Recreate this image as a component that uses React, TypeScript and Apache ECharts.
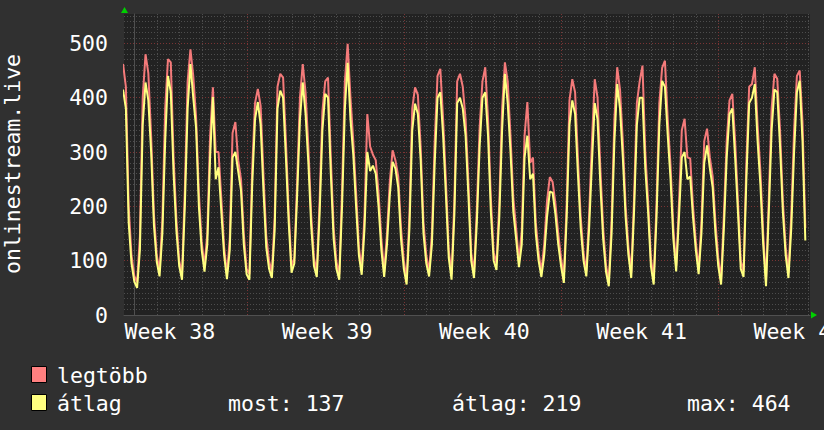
import { useEffect, useRef } from "react";
import * as echarts from "echarts";

// RRD sampling: first sample hour (relative to first daily grid line) and step
const START_HOUR = -12;
const STEP_HOURS = 3;

// "legtöbb" (maximum) series, one row per day (00,03,...,21 h)
const MAX_VALUES = [
  462, 420, 200, 110,
  72, 60, 145, 400, 480, 445, 330, 185,
  110, 82, 175, 380, 471, 465, 290, 175,
  100, 75, 230, 430, 489, 440, 365, 225,
  135, 90, 150, 330, 419, 300, 300, 215,
  125, 75, 140, 335, 355, 285, 250, 150,
  85, 75, 270, 390, 416, 385, 260, 145,
  100, 78, 180, 420, 444, 437, 320, 190,
  90, 105, 245, 400, 462, 410, 310, 185,
  105, 80, 210, 375, 430, 437, 290, 160,
  98, 75, 230, 430, 499, 400, 320, 225,
  125, 85, 185, 370, 310, 295, 285, 225,
  140, 80, 150, 245, 303, 285, 255, 160,
  100, 66, 185, 380, 419, 405, 310, 170,
  110, 80, 150, 320, 440, 453, 360, 245,
  120, 75, 210, 430, 444, 420, 360, 245,
  115, 78, 195, 345, 430, 456, 360, 215,
  115, 95, 205, 380, 465, 430, 330, 215,
  160, 100, 155, 330, 392, 280, 290, 170,
  115, 80, 130, 210, 254, 245, 205, 150,
  105, 70, 205, 395, 434, 410, 290, 180,
  115, 80, 185, 320, 434, 400, 270, 160,
  92, 62, 175, 360, 456, 415, 320, 200,
  125, 78, 215, 390, 430, 459, 300, 210,
  105, 66, 205, 390, 455, 468, 360, 275,
  160, 90, 205, 340, 361, 290, 288, 200,
  135, 85, 170, 320, 343, 290, 255, 170,
  105, 66, 185, 320, 395, 407, 320, 210,
  100, 80, 280, 420, 425, 456, 350, 265,
  150, 62, 215, 380, 444, 435, 340, 210,
  125, 78, 185, 340, 440, 450, 355, 160,
];

// "átlag" (average) series
const AVG_VALUES = [
  415, 380, 170, 95,
  62, 50, 120, 350, 428, 395, 300, 165,
  98, 71, 150, 320, 440, 410, 260, 155,
  90, 65, 200, 380, 462, 400, 345, 200,
  120, 80, 130, 290, 401, 250, 272, 190,
  110, 66, 120, 290, 300, 265, 230, 130,
  75, 65, 240, 360, 392, 350, 230, 125,
  85, 68, 156, 380, 413, 400, 290, 170,
  78, 95, 220, 360, 428, 370, 280, 165,
  90, 70, 185, 340, 407, 400, 260, 140,
  85, 65, 200, 380, 464, 360, 295, 200,
  110, 74, 160, 300, 265, 275, 260, 200,
  120, 70, 130, 220, 282, 270, 235, 140,
  85, 56, 160, 340, 389, 370, 285, 150,
  95, 71, 130, 280, 400, 410, 330, 220,
  105, 65, 185, 390, 400, 380, 330, 220,
  100, 68, 170, 310, 400, 410, 330, 190,
  100, 83, 180, 340, 444, 390, 300, 190,
  140, 88, 130, 290, 330, 250, 260, 150,
  100, 70, 110, 180, 227, 225, 185, 130,
  90, 59, 180, 350, 395, 370, 260, 160,
  100, 71, 160, 280, 390, 360, 240, 140,
  80, 53, 150, 320, 425, 380, 290, 180,
  110, 68, 190, 350, 400, 400, 270, 190,
  90, 56, 180, 350, 431, 420, 330, 250,
  140, 80, 180, 290, 300, 250, 255, 180,
  120, 75, 150, 280, 312, 270, 235, 150,
  90, 56, 160, 290, 370, 380, 290, 190,
  85, 70, 250, 390, 400, 425, 320, 240,
  130, 53, 190, 340, 415, 410, 310, 190,
  110, 68, 160, 300, 410, 431, 320, 137,
];

const DAY_LINES = [
  0, 24, 48, 72, 96, 120, 144, 168, 192, 216, 240, 264, 288, 312, 336, 360,
  384, 408, 432, 456, 480, 504, 528, 552, 576, 600, 624, 648, 672, 696, 720,
];
const WEEK_LINES = [120, 288, 456, 624];
const WEEK_LABEL_POS = [38, 206, 374, 542, 710];
const WEEK_LABELS = ["Week 38", "Week 39", "Week 40", "Week 41", "Week 42"];

const SERIES_NAMES = ["legtöbb", "átlag"];
const STAT_TEXTS = ["most: 137", "átlag: 219", "max: 464"];
const Y_TITLE = "onlinestream.live";

const X_MIN = -11;
const X_MAX = 722;
const Y_MAX = 554;

const BG = "#303030";
const PLOT_BG = "#222222";
const RED = "#f47a7a";
const YELLOW = "#ffff80";
const MINOR = "#4d4d4d";
const MAJOR = "#7a3434";
const FONT = "DejaVu Sans Mono";
const FS = 21.5;

export default function App() {
  const ref = useRef<HTMLDivElement>(null);

  useEffect(() => {
    if (!ref.current) return;
    const chart = echarts.init(ref.current, undefined, { renderer: "svg" });

    const maxData = MAX_VALUES.map((v, i) => [START_HOUR + i * STEP_HOURS, v]);
    const avgData = AVG_VALUES.map((v, i) => [START_HOUR + i * STEP_HOURS, v]);
    const gridData = DAY_LINES.map((t) => [t, WEEK_LINES.indexOf(t) >= 0 ? 1 : 0]);

    const splitColors = [MAJOR, MINOR, MINOR, MINOR, MINOR, MINOR, MINOR, MINOR, MINOR, MINOR];

    const legendFont = { fontFamily: FONT, fontSize: FS, fill: "#ffffff", textVerticalAlign: "middle" };

    chart.setOption({
      animation: false,
      backgroundColor: BG,
      grid: {
        left: 124,
        right: 14,
        top: 14,
        bottom: 115,
        show: true,
        backgroundColor: PLOT_BG,
        borderWidth: 0,
        containLabel: false,
        outerBoundsMode: "none",
      },
      xAxis: {
        type: "value",
        min: X_MIN,
        max: X_MAX,
        axisLine: { show: true, lineStyle: { color: "#505050", width: 1 } },
        axisTick: { show: false },
        splitLine: { show: false },
        axisLabel: {
          customValues: WEEK_LABEL_POS,
          formatter: (v: number) => {
            const i = WEEK_LABEL_POS.indexOf(Math.round(v));
            return i >= 0 ? WEEK_LABELS[i] : "";
          },
          color: "#ffffff",
          fontFamily: FONT,
          fontSize: FS,
          margin: 5,
        },
      },
      yAxis: {
        type: "value",
        min: 0,
        max: Y_MAX,
        interval: 10,
        axisLine: { show: true, lineStyle: { color: "#505050", width: 1 } },
        axisTick: { show: false },
        splitLine: {
          show: true,
          showMaxLine: false,
          lineStyle: { color: splitColors, type: [1, 2], width: 1 },
        },
        axisLabel: {
          formatter: (v: number) => (v % 100 === 0 ? String(v) : ""),
          color: "#ffffff",
          fontFamily: FONT,
          fontSize: FS,
          margin: 16,
        },
      },
      series: [
        {
          type: "custom",
          silent: true,
          z: 1,
          data: gridData,
          encode: { x: 0, y: 1 },
          renderItem: (params: any, api: any) => {
            const t = api.value(0);
            const major = api.value(1);
            const p = api.coord([t, 0]);
            const cs = params.coordSys;
            const x = Math.round(p[0]) + 0.5;
            return {
              type: "line",
              shape: { x1: x, y1: cs.y, x2: x, y2: cs.y + cs.height },
              style: { stroke: major ? MAJOR : MINOR, lineWidth: 1, lineDash: [1, 2] },
            };
          },
        },
        {
          name: SERIES_NAMES[0],
          type: "line",
          data: maxData,
          showSymbol: false,
          z: 2,
          lineStyle: { color: RED, width: 2 },
          itemStyle: { color: RED },
        },
        {
          name: SERIES_NAMES[1],
          type: "line",
          data: avgData,
          showSymbol: false,
          z: 3,
          lineStyle: { color: YELLOW, width: 2 },
          itemStyle: { color: YELLOW },
        },
      ],
      graphic: [
        {
          type: "text",
          x: 12,
          y: 164,
          rotation: Math.PI / 2,
          style: {
            text: Y_TITLE,
            fontFamily: FONT,
            fontSize: FS,
            fill: "#ffffff",
            textAlign: "center",
            textVerticalAlign: "middle",
          },
        },
        {
          type: "polygon",
          shape: { points: [[121, 13], [128, 13], [124.5, 7]] },
          style: { fill: "#00d000" },
          z: 10,
        },
        {
          type: "polygon",
          shape: { points: [[811, 311.5], [811, 318.5], [817, 315]] },
          style: { fill: "#00d000" },
          z: 10,
        },
        {
          type: "rect",
          shape: { x: 31.5, y: 366.5, width: 15, height: 16 },
          style: { fill: "#ff8080", stroke: "#000000", lineWidth: 1 },
        },
        {
          type: "rect",
          shape: { x: 31.5, y: 394.5, width: 15, height: 16 },
          style: { fill: "#ffff80", stroke: "#000000", lineWidth: 1 },
        },
        { type: "text", x: 57, y: 375, style: { ...legendFont, text: SERIES_NAMES[0] } },
        { type: "text", x: 57, y: 403, style: { ...legendFont, text: SERIES_NAMES[1] } },
        { type: "text", x: 228, y: 403, style: { ...legendFont, text: STAT_TEXTS[0] } },
        { type: "text", x: 452, y: 403, style: { ...legendFont, text: STAT_TEXTS[1] } },
        { type: "text", x: 687, y: 403, style: { ...legendFont, text: STAT_TEXTS[2] } },
      ],
    });

    return () => chart.dispose();
  }, []);

  return (
    <div
      ref={ref}
      style={{ position: "fixed", left: 0, top: 0, width: 824, height: 430, background: BG }}
    />
  );
}
